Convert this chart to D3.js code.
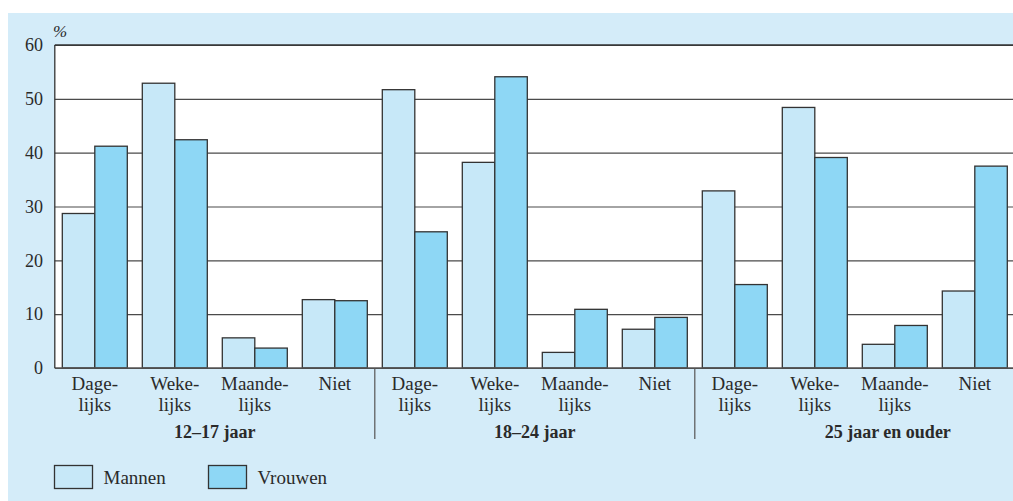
<!DOCTYPE html>
<html>
<head>
<meta charset="utf-8">
<script src="https://cdn.jsdelivr.net/npm/d3@7/dist/d3.min.js"></script>
<style>
  html, body { margin: 0; padding: 0; background: #ffffff; }
  svg { display: block; }
  text { font-family: "Liberation Serif", "Times New Roman", serif; fill: #2a2a2a; }
</style>
</head>
<body>
<svg id="chart" width="1013" height="501"></svg>
<script>
// ---- data ----
const groups = ["12–17 jaar", "18–24 jaar", "25 jaar en ouder"];
const frequencies = ["Dage-\nlijks", "Weke-\nlijks", "Maande-\nlijks", "Niet"];
const seriesNames = ["Mannen", "Vrouwen"];
const mannen  = [28.7, 52.9, 5.6, 12.7, 51.7, 38.2, 2.9, 7.2, 32.9, 48.4, 4.4, 14.3];
const vrouwen = [41.2, 42.4, 3.7, 12.5, 25.3, 54.1, 10.9, 9.4, 15.5, 39.1, 7.9, 37.5];
const yTicks = [0, 10, 20, 30, 40, 50, 60];
const yUnit = "%";

// ---- layout ----
const W = 1013, H = 501;
const plot = { left: 54.8, right: 1014.8, top: 45, bottom: 368 };
const colors = { bg: "#d4ecf9", Mannen: "#c7e8f8", Vrouwen: "#8ed7f5", stroke: "#333333", grid: "#4a4a4a" };
const groupLabelShift = [0, 0, 33];

const svg = d3.select("#chart");

// background panel
svg.append("rect").attr("x", 8).attr("y", 13).attr("width", W).attr("height", H)
  .attr("fill", colors.bg);

// flat category keys
const keys = [];
groups.forEach((g, gi) => frequencies.forEach((f, fi) => keys.push(gi + "|" + fi)));

const x = d3.scaleBand().domain(keys).range([plot.left, plot.right])
  .paddingInner(0.1875).paddingOuter(0.09375);
const xs = d3.scaleBand().domain(seriesNames).range([0, x.bandwidth()]);
const y = d3.scaleLinear().domain([0, 60]).range([plot.bottom, plot.top]);

// white plot area
svg.append("rect").attr("x", plot.left).attr("y", plot.top)
  .attr("width", plot.right - plot.left).attr("height", plot.bottom - plot.top)
  .attr("fill", "#ffffff");

// gridlines via axis
const yAxis = d3.axisLeft(y).tickValues(yTicks).tickSize(-(plot.right - plot.left)).tickFormat("");
const gy = svg.append("g").attr("transform", `translate(${plot.left},0)`).call(yAxis);
gy.select(".domain").remove();
gy.selectAll(".tick line").attr("stroke", colors.grid).attr("stroke-width", 1.2);

// tick labels
svg.append("g").selectAll("text").data(yTicks).join("text")
  .attr("x", 43).attr("y", d => y(d)).attr("dy", "0.35em")
  .attr("text-anchor", "end").attr("font-size", 18).text(d => d);

// unit
svg.append("text").attr("x", 53).attr("y", 37).attr("font-size", 17)
  .attr("font-style", "italic").text(yUnit);

// bars
const rows = keys.map((k, i) => ({ key: k, values: [
  { s: "Mannen", v: mannen[i] }, { s: "Vrouwen", v: vrouwen[i] } ] }));
const bars = svg.append("g").selectAll("g").data(rows).join("g")
  .attr("transform", d => `translate(${x(d.key)},0)`);
bars.selectAll("rect").data(d => d.values).join("rect")
  .attr("x", d => xs(d.s)).attr("width", xs.bandwidth())
  .attr("y", d => y(d.v)).attr("height", d => y(0) - y(d.v))
  .attr("fill", d => colors[d.s]).attr("stroke", colors.stroke).attr("stroke-width", 1.3);

// axes lines
svg.append("line").attr("x1", plot.left).attr("x2", plot.right)
  .attr("y1", y(0)).attr("y2", y(0)).attr("stroke", "#555").attr("stroke-width", 1.5);
svg.append("line").attr("x1", plot.left).attr("x2", plot.left)
  .attr("y1", y(60)).attr("y2", y(0)).attr("stroke", "#333").attr("stroke-width", 1.3);
svg.append("line").attr("x1", plot.left).attr("x2", plot.right)
  .attr("y1", y(60)).attr("y2", y(60)).attr("stroke", "#333").attr("stroke-width", 1.3);

// category labels
const cat = svg.append("g").selectAll("text").data(keys).join("text")
  .attr("text-anchor", "middle").attr("font-size", 19)
  .attr("transform", d => `translate(${x(d) + x.bandwidth() / 2},0)`);
cat.each(function(d) {
  const lines = frequencies[+d.split("|")[1]].split("\n");
  d3.select(this).selectAll("tspan").data(lines).join("tspan")
    .attr("x", 0).attr("y", (l, i) => 390 + i * 21).text(l => l);
});

// group dividers
const step = x.step();
const groupStart = gi => x.range()[0] + gi * frequencies.length * step;
svg.append("g").selectAll("line").data(groups.slice(1)).join("line")
  .attr("x1", (g, i) => groupStart(i + 1)).attr("x2", (g, i) => groupStart(i + 1))
  .attr("y1", y(0)).attr("y2", 439).attr("stroke", "#555").attr("stroke-width", 1.2);

// group labels
svg.append("g").selectAll("text").data(groups).join("text")
  .attr("x", (g, i) => groupStart(i) + frequencies.length * step / 2 + groupLabelShift[i])
  .attr("y", 438).attr("text-anchor", "middle").attr("font-size", 18)
  .attr("font-weight", "bold").text(g => g);

// legend
const leg = svg.append("g").selectAll("g").data(seriesNames).join("g")
  .attr("transform", (d, i) => `translate(${54.5 + i * 154},465.5)`);
leg.append("rect").attr("width", 38).attr("height", 23)
  .attr("fill", d => colors[d]).attr("stroke", colors.stroke).attr("stroke-width", 1.3);
leg.append("text").attr("x", 49).attr("y", 18.5).attr("font-size", 19).text(d => d);
</script>
</body>
</html>
